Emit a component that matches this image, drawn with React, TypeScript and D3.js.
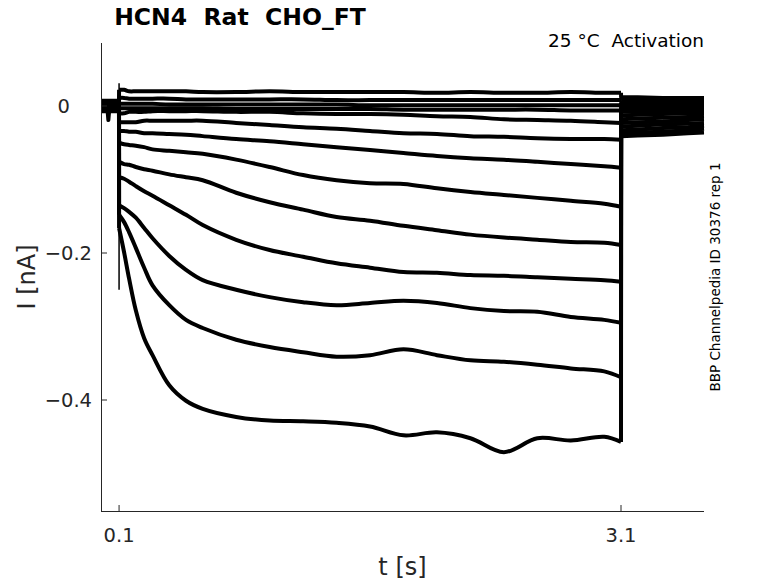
import React, { useEffect } from "react";
import * as d3 from "d3";

// ---------- data (time in s, current in nA) ----------
const xTicks = [0.1, 3.1];
const xTickLabels = ["0.1", "3.1"];
const yTicks = [0, -0.2, -0.4];
const yTickLabels = ["0", "\u22120.2", "\u22120.4"];

const preTimes = [-0.008, 0.03, 0.036, 0.042, 0.0995];
const pulseTimes = [0.1, 0.13, 0.16, 0.2, 0.25, 0.3, 0.4, 0.5, 0.6, 0.8, 1.0, 1.2, 1.4, 1.6, 1.8, 2.0, 2.2, 2.4, 2.6, 2.8, 3.0, 3.1];
const tailTimes = [3.1005, 3.2, 3.35, 3.5, 3.596];

const preValues = [
  [0.007, 0.007, 0.007, 0.007, 0.007],
  [0.004, 0.004, 0.004, 0.004, 0.004],
  [0.005, 0.005, 0.005, 0.005, 0.005],
  [0.002, 0.002, 0.002, 0.002, 0.002],
  [0.001, 0.001, 0.001, 0.001, 0.001],
  [-0.001, -0.001, -0.001, -0.001, -0.001],
  [0.0, 0.0, 0.0, 0.0, 0.0],
  [-0.003, -0.003, -0.019, -0.003, -0.003],
  [-0.002, -0.002, -0.002, -0.002, -0.002],
  [-0.004, -0.004, -0.004, -0.004, -0.004],
  [-0.006, -0.006, -0.006, -0.006, -0.006],
  [-0.005, -0.005, -0.005, -0.005, -0.005],
  [-0.007, -0.007, -0.007, -0.007, -0.007],
];

const pulseValues = [
  [0.022, 0.022, 0.020, 0.020, 0.020, 0.020, 0.020, 0.020, 0.019, 0.019, 0.020, 0.019, 0.019, 0.019, 0.019, 0.018, 0.019, 0.018, 0.018, 0.019, 0.018, 0.018],
  [0.011, 0.011, 0.010, 0.010, 0.010, 0.010, 0.010, 0.009, 0.009, 0.009, 0.009, 0.009, 0.008, 0.008, 0.008, 0.008, 0.008, 0.008, 0.008, 0.008, 0.008, 0.008],
  [0.003, 0.003, 0.003, 0.003, 0.003, 0.003, 0.002, 0.002, 0.002, 0.002, 0.002, 0.002, 0.002, 0.001, 0.001, 0.001, 0.001, 0.001, 0.001, 0.001, 0.001, 0.001],
  [-0.003, -0.003, -0.003, -0.003, -0.003, -0.003, -0.003, -0.003, -0.003, -0.004, -0.004, -0.004, -0.004, -0.004, -0.005, -0.005, -0.005, -0.005, -0.005, -0.006, -0.006, -0.006],
  [-0.010, -0.010, -0.008, -0.008, -0.008, -0.007, -0.007, -0.007, -0.007, -0.008, -0.008, -0.010, -0.011, -0.011, -0.012, -0.014, -0.015, -0.018, -0.019, -0.020, -0.022, -0.023],
  [-0.022, -0.022, -0.022, -0.022, -0.020, -0.020, -0.020, -0.020, -0.020, -0.023, -0.026, -0.029, -0.031, -0.034, -0.037, -0.038, -0.041, -0.042, -0.044, -0.045, -0.045, -0.046],
  [-0.034, -0.034, -0.035, -0.035, -0.037, -0.037, -0.038, -0.039, -0.041, -0.045, -0.048, -0.052, -0.056, -0.060, -0.064, -0.068, -0.071, -0.073, -0.076, -0.079, -0.082, -0.084],
  [-0.050, -0.052, -0.053, -0.054, -0.056, -0.059, -0.061, -0.063, -0.065, -0.073, -0.083, -0.094, -0.101, -0.105, -0.106, -0.112, -0.117, -0.121, -0.125, -0.129, -0.133, -0.137],
  [-0.076, -0.079, -0.080, -0.083, -0.086, -0.088, -0.093, -0.097, -0.101, -0.118, -0.131, -0.141, -0.151, -0.156, -0.163, -0.169, -0.175, -0.179, -0.182, -0.185, -0.186, -0.189],
  [-0.097, -0.099, -0.103, -0.109, -0.116, -0.122, -0.135, -0.148, -0.162, -0.182, -0.196, -0.205, -0.214, -0.220, -0.226, -0.227, -0.230, -0.231, -0.233, -0.235, -0.237, -0.239],
  [-0.135, -0.139, -0.144, -0.152, -0.166, -0.180, -0.204, -0.223, -0.237, -0.250, -0.260, -0.267, -0.271, -0.268, -0.265, -0.268, -0.275, -0.279, -0.280, -0.287, -0.291, -0.295],
  [-0.148, -0.158, -0.172, -0.193, -0.220, -0.244, -0.271, -0.291, -0.302, -0.318, -0.328, -0.335, -0.341, -0.339, -0.331, -0.339, -0.346, -0.348, -0.352, -0.357, -0.361, -0.369],
  [-0.166, -0.199, -0.235, -0.278, -0.316, -0.339, -0.380, -0.401, -0.412, -0.423, -0.428, -0.429, -0.431, -0.436, -0.448, -0.444, -0.452, -0.471, -0.452, -0.455, -0.450, -0.457],
];

const tailValues = [
  [0.012, 0.012, 0.011, 0.011, 0.011],
  [0.008, 0.008, 0.008, 0.008, 0.008],
  [0.004, 0.004, 0.005, 0.005, 0.005],
  [0.000, 0.001, 0.001, 0.002, 0.002],
  [-0.004, -0.003, -0.003, -0.002, -0.002],
  [-0.008, -0.008, -0.007, -0.006, -0.006],
  [-0.013, -0.012, -0.011, -0.010, -0.010],
  [-0.018, -0.017, -0.016, -0.015, -0.014],
  [-0.023, -0.022, -0.021, -0.019, -0.018],
  [-0.028, -0.027, -0.025, -0.024, -0.023],
  [-0.033, -0.032, -0.030, -0.029, -0.027],
  [-0.037, -0.036, -0.035, -0.033, -0.031],
  [-0.041, -0.040, -0.039, -0.037, -0.036],
];

// capacitive transient at pulse onset (t = 0.1 s)
const transientTime = 0.1;
const transientValues = [0.031, -0.25];

const titleText = "HCN4  Rat  CHO_FT";
const subtitleText = "25 \u00B0C  Activation";
const sideText = "BBP Channelpedia ID 30376 rep 1";
const xLabel = "t [s]";
const yLabel = "I [nA]";

// ---------- layout ----------
const W = 778;
const H = 583;
const left = 101;
const right = 704;
const top = 43;
const bottom = 511;
const axisColor = "#262626";
const font = "'DejaVu Sans', sans-serif";

export default function App() {
  useEffect(() => {
    document.body.style.margin = "0";
  }, []);

  const x = d3.scaleLinear().domain([-0.008, 3.596]).range([left, right]);
  const y = d3.scaleLinear().domain([0.0857, -0.551]).range([top, bottom]);

  const straight = d3
    .line<[number, number]>()
    .x((d) => x(d[0]))
    .y((d) => y(d[1]));
  const smooth = d3
    .line<[number, number]>()
    .x((d) => x(d[0]))
    .y((d) => y(d[1]))
    .curve(d3.curveCatmullRom.alpha(0.5));

  const segs = pulseValues.map((pv, i) => {
    const pulse: [number, number][] = pulseTimes.map((t, j) => [t, pv[j]]);
    const pre: [number, number][] = preTimes.map((t, j) => [t, preValues[i][j]] as [number, number]);
    pre.push(pulse[0]);
    const tail: [number, number][] = [pulse[pulse.length - 1]];
    tailTimes.forEach((t, j) => tail.push([t, tailValues[i][j]]));
    return { pre, pulse, tail };
  });

  const transient: [number, number][] = transientValues.map((v) => [transientTime, v]);

  return (
    <svg width={W} height={H} style={{ display: "block", background: "#fff" }} fontFamily={font}>
      <rect x={0} y={0} width={W} height={H} fill="#fff" />
      {/* traces */}
      <g fill="none" stroke="#000" strokeWidth={4} strokeLinejoin="round" strokeLinecap="butt">
        {segs.map((s, i) => (
          <g key={i}>
            <path d={straight(s.pre) || ""} />
            <path d={smooth(s.pulse) || ""} />
            <path d={straight(s.tail) || ""} />
          </g>
        ))}
        <path d={straight(transient) || ""} strokeWidth={1.5} />
      </g>
      {/* axes */}
      <g stroke={axisColor} strokeWidth={1} fill="none">
        <line x1={left + 0.5} y1={top} x2={left + 0.5} y2={bottom + 0.5} />
        <line x1={left} y1={bottom + 0.5} x2={right} y2={bottom + 0.5} />
        {xTicks.map((t) => (
          <line key={"xt" + t} x1={x(t)} x2={x(t)} y1={bottom} y2={bottom - 6} />
        ))}
        {yTicks.map((t) => (
          <line key={"yt" + t} x1={left} x2={left + 6} y1={y(t)} y2={y(t)} />
        ))}
      </g>
      {/* tick labels */}
      <g fill={axisColor} fontSize={19.5}>
        {xTicks.map((t, i) => (
          <text key={"xl" + t} x={x(t)} y={542} textAnchor="middle">
            {xTickLabels[i]}
          </text>
        ))}
        {yTicks.map((t, i) => (
          <text key={"yl" + t} x={t === 0 ? 70 : 92} y={y(t) + 7} textAnchor="end">
            {yTickLabels[i]}
          </text>
        ))}
      </g>
      {/* axis labels */}
      <text x={(left + right) / 2} y={575} textAnchor="middle" fontSize={24} fill={axisColor}>
        {xLabel}
      </text>
      <text transform={`translate(35, ${(top + bottom) / 2}) rotate(-90)`} textAnchor="middle" fontSize={24} fill={axisColor}>
        {yLabel}
      </text>
      {/* title */}
      <text x={240} y={25} textAnchor="middle" fontSize={23.5} fontWeight="bold" fill="#000" style={{ whiteSpace: "pre" }}>
        {titleText}
      </text>
      <text x={right} y={47} textAnchor="end" fontSize={18.5} fill="#000" style={{ whiteSpace: "pre" }}>
        {subtitleText}
      </text>
      <text transform={`translate(720, 277) rotate(-90)`} textAnchor="middle" fontSize={13.5} fill="#000">
        {sideText}
      </text>
    </svg>
  );
}
